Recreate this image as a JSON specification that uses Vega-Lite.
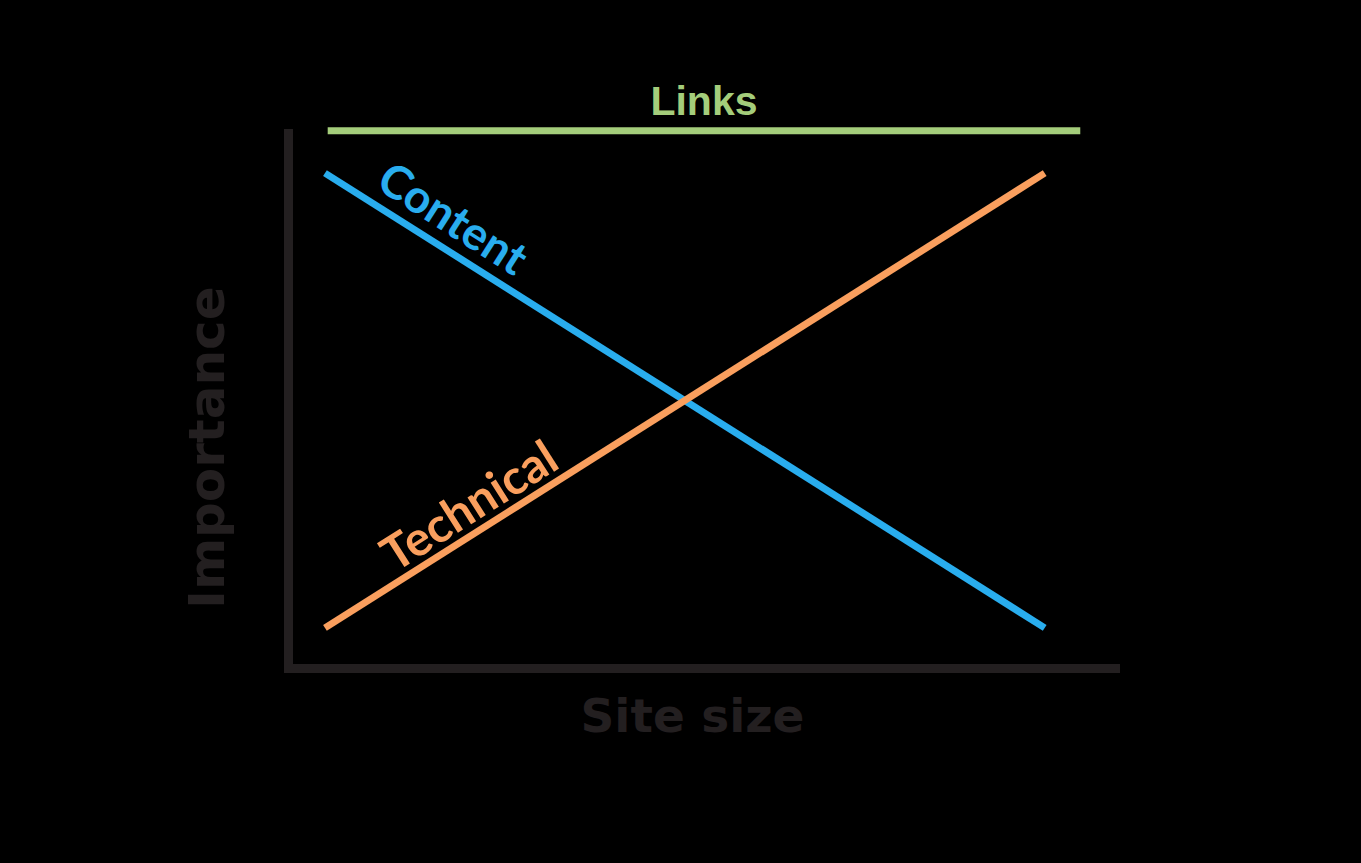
{
  "$schema": "https://vega.github.io/schema/vega-lite/v6.json",
  "autosize": {"type": "none"},
  "width": 827,
  "height": 535,
  "padding": {"left": 288, "top": 133, "right": 246, "bottom": 195},
  "background": "#000000",
  "config": {"view": {"stroke": null}},
  "datasets": {
    "lines": [
      {"series": "Content", "x": 4.47, "y": 92.5},
      {"series": "Content", "x": 91.5, "y": 7.5},
      {"series": "Technical", "x": 4.47, "y": 7.5},
      {"series": "Technical", "x": 91.5, "y": 92.5},
      {"series": "Links", "x": 4.8, "y": 100.4},
      {"series": "Links", "x": 95.8, "y": 100.4}
    ],
    "labels": [
      {"series": "Links", "x": 50.3, "y": 105.6},
      {"series": "Content", "x": 19.8, "y": 83.7},
      {"series": "Technical", "x": 22.1, "y": 29.9}
    ]
  },
  "layer": [
    {
      "data": {"name": "lines"},
      "mark": {"type": "line", "strokeWidth": 7, "strokeCap": "butt", "clip": false},
      "encoding": {
        "x": {
          "field": "x", "type": "quantitative",
          "scale": {"domain": [0, 100], "nice": false, "zero": false},
          "axis": {
            "domain": true, "domainColor": "#231f20", "domainWidth": 9, "domainCap": "square",
            "ticks": false, "labels": false, "grid": false,
            "title": "Site size", "titleFont": "DejaVu Sans",
            "titleFontSize": 47, "titleFontWeight": "bold", "titleColor": "#231f20",
            "titleX": 404, "titleY": 49, "titleBaseline": "middle", "titleAlign": "center"
          }
        },
        "y": {
          "field": "y", "type": "quantitative",
          "scale": {"domain": [0, 100], "nice": false, "zero": false},
          "axis": {
            "domain": true, "domainColor": "#231f20", "domainWidth": 9, "domainCap": "square",
            "ticks": false, "labels": false, "grid": false,
            "title": "Importance", "titleFont": "DejaVu Sans",
            "titleFontSize": 50, "titleFontWeight": "bold", "titleColor": "#231f20",
            "titleX": -80, "titleY": 314, "titleBaseline": "middle", "titleAlign": "center", "titleAngle": -90
          }
        },
        "color": {
          "field": "series", "type": "nominal",
          "scale": {"domain": ["Content", "Technical", "Links"], "range": ["#29adee", "#fa9f5e", "#a4cd7b"]},
          "legend": null
        }
      }
    },
    {
      "data": {"name": "labels"},
      "transform": [{"filter": "datum.series === 'Links'"}],
      "mark": {"type": "text", "font": "Liberation Sans", "fontWeight": "bold", "fontSize": 41, "baseline": "middle", "align": "center", "color": "#a4cd7b"},
      "encoding": {
        "x": {"field": "x", "type": "quantitative"},
        "y": {"field": "y", "type": "quantitative"},
        "text": {"field": "series"}
      }
    },
    {
      "data": {"name": "labels"},
      "transform": [{"filter": "datum.series === 'Content'"}],
      "mark": {"type": "text", "font": "Lato", "fontWeight": "bold", "fontSize": 46, "baseline": "middle", "align": "center", "angle": 32.5, "color": "#29adee"},
      "encoding": {
        "x": {"field": "x", "type": "quantitative"},
        "y": {"field": "y", "type": "quantitative"},
        "text": {"field": "series"}
      }
    },
    {
      "data": {"name": "labels"},
      "transform": [{"filter": "datum.series === 'Technical'"}],
      "mark": {"type": "text", "font": "Lato", "fontWeight": "bold", "fontSize": 48, "baseline": "middle", "align": "center", "angle": -32.5, "color": "#fa9f5e"},
      "encoding": {
        "x": {"field": "x", "type": "quantitative"},
        "y": {"field": "y", "type": "quantitative"},
        "text": {"field": "series"}
      }
    }
  ]
}
